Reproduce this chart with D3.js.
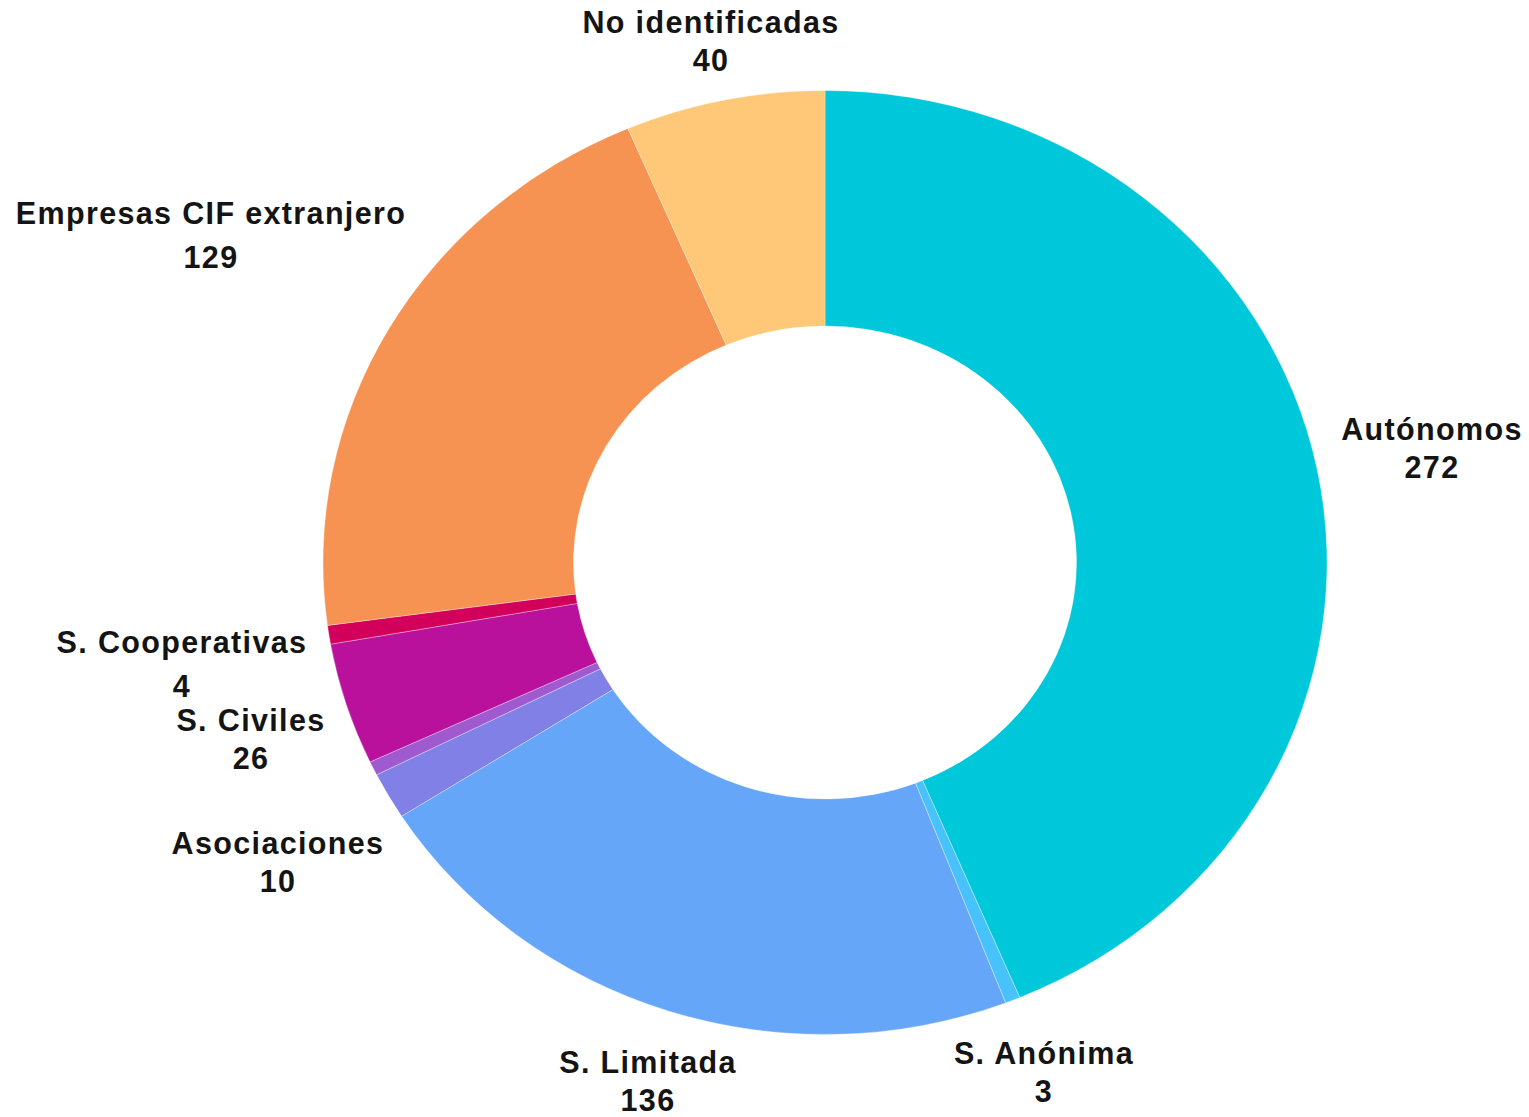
<!DOCTYPE html>
<html>
<head>
<meta charset="utf-8">
<script src="https://cdn.jsdelivr.net/npm/d3@7/dist/d3.min.js"></script>
<style>
  html, body { margin: 0; padding: 0; background: #fff; }
  svg { display: block; }
  text { font-family: "Liberation Sans", Arial, sans-serif; font-weight: bold; fill: #141414; }
</style>
</head>
<body>
<svg id="chart" width="1529" height="1117"></svg>
<script>
// ---- data ----
const categories = ["Autónomos", "S. Anónima", "S. Limitada", "Asociaciones", "Otras", "S. Civiles", "S. Cooperativas", "Empresas CIF extranjero", "No identificadas"];
const values     = [272, 3, 136, 10, 3, 26, 4, 129, 40];
const colors     = ["#00c8db", "#47c2fa", "#66a6f9", "#8080e6", "#a05ad0", "#ba119c", "#d3005b", "#f69352", "#fec878"];
const showLabel  = [true, true, true, true, false, true, true, true, true];

// ---- label layout (text anchor centre x, baseline y of first line, line gap) ----
const labelLayout = {
  "Autónomos":               [1432, 440, 38],
  "S. Anónima":              [1044, 1064, 38],
  "S. Limitada":             [648, 1073, 38],
  "Asociaciones":            [278, 854, 38],
  "S. Civiles":              [251, 731, 38],
  "S. Cooperativas":         [182, 653, 44],
  "Empresas CIF extranjero": [211, 224, 44],
  "No identificadas":        [711, 33, 38]
};

const data = categories.map((c, i) => ({ name: c, value: values[i], color: colors[i], show: showLabel[i] }));

const svg = d3.select("#chart");
const cx = 825, cy = 562.5;
const outerR = 472, innerR = 236.5, xStretch = 502 / 472;

const pie = d3.pie().sort(null).value(d => d.value);
const arc = d3.arc().innerRadius(innerR).outerRadius(outerR);

const g = svg.append("g").attr("transform", `translate(${cx},${cy}) scale(${xStretch},1)`);
g.selectAll("path")
  .data(pie(data))
  .join("path")
  .attr("d", arc)
  .attr("fill", d => d.data.color)
  .attr("stroke", "#ffffff")
  .attr("stroke-opacity", 0.35)
  .attr("stroke-width", 0.9);

const lg = svg.append("g");
data.filter(d => d.show).forEach(d => {
  const [x, y, gap] = labelLayout[d.name];
  const t = lg.append("text")
    .attr("text-anchor", "middle")
    .attr("font-size", 30.5)
    .attr("letter-spacing", 1.35);
  t.append("tspan").attr("x", x).attr("y", y).text(d.name);
  t.append("tspan").attr("x", x).attr("y", y + gap).text(d.value);
});
</script>
</body>
</html>
